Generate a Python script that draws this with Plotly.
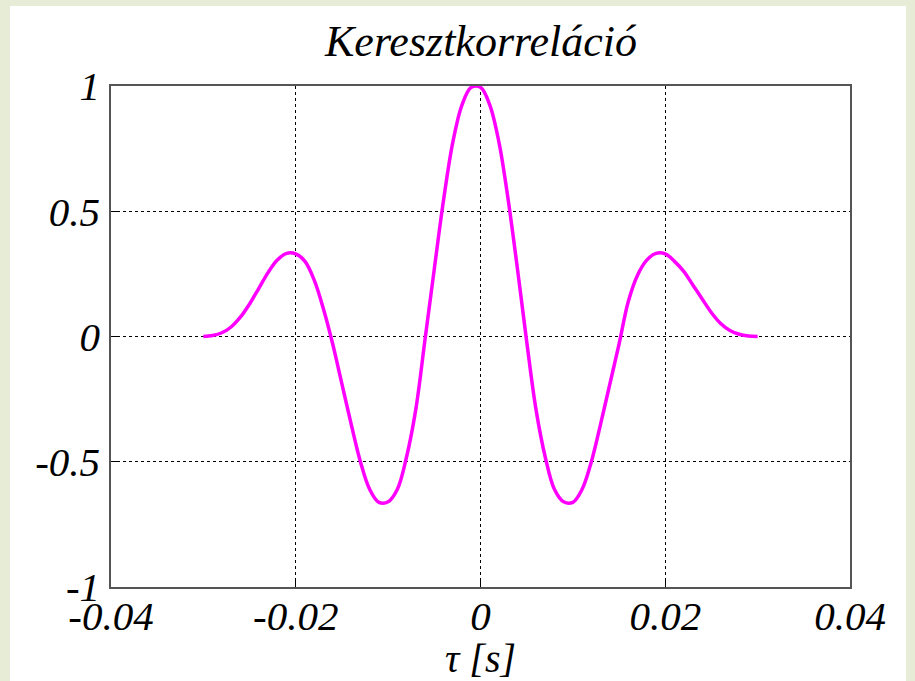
import plotly.graph_objects as go

# Data
tau = [-0.030, -0.029, -0.028, -0.027, -0.026, -0.025, -0.024, -0.023, -0.022,
       -0.021, -0.020, -0.019, -0.018, -0.017, -0.016, -0.015, -0.014, -0.013,
       -0.012, -0.011, -0.010, -0.009, -0.008, -0.007, -0.006, -0.005, -0.004,
       -0.003, -0.002, -0.001, 0.000, 0.001, 0.002, 0.003, 0.004, 0.005,
       0.006, 0.007, 0.008, 0.009, 0.010, 0.011, 0.012, 0.013, 0.014,
       0.015, 0.016, 0.017, 0.018, 0.019, 0.020, 0.021, 0.022, 0.023,
       0.024, 0.025, 0.026, 0.027, 0.028, 0.029, 0.030]
corr = [0.000, 0.004, 0.015, 0.038, 0.077, 0.130, 0.192, 0.255, 0.305,
        0.332, 0.330, 0.300, 0.225, 0.110, -0.030, -0.190, -0.350, -0.500,
        -0.610, -0.662, -0.660, -0.610, -0.480, -0.290, -0.010, 0.270, 0.545,
        0.775, 0.925, 0.995, 0.995, 0.925, 0.775, 0.545, 0.270, -0.020,
        -0.290, -0.480, -0.610, -0.660, -0.662, -0.610, -0.500, -0.350, -0.190,
        -0.030, 0.140, 0.245, 0.305, 0.332, 0.330, 0.300, 0.260, 0.205,
        0.150, 0.095, 0.052, 0.024, 0.009, 0.002, 0.000]

x_ticks = [-0.04, -0.02, 0, 0.02, 0.04]
x_tick_text = ["-0.04", "-0.02", "0", "0.02", "0.04"]
y_ticks = [-1, -0.5, 0, 0.5, 1]
y_tick_text = ["-1", "-0.5", "0", "0.5", "1"]

title_text = "Keresztkorreláció"
x_title = "τ [s]"

FONT = "Liberation Serif"

fig = go.Figure()
fig.add_trace(go.Scatter(
    x=tau, y=corr, mode="lines",
    line=dict(color="#ff00ff", width=3.5, shape="spline", smoothing=1.0),
    showlegend=False, hoverinfo="skip",
))

L, R, T, B = 111, 65, 86, 94
W, H = 915, 681
pw, ph = W - L - R, H - T - B

# white slide panel
fig.add_shape(type="rect", xref="paper", yref="paper",
              x0=(10 - L) / pw, x1=(906 - L) / pw,
              y0=(H - B - 681) / ph, y1=(H - B - 6) / ph,
              fillcolor="white", line=dict(width=0), layer="below")

fig.add_annotation(text="<i>" + title_text + "</i>", xref="paper", yref="paper",
                   x=0.5, y=(H - B - 42) / ph, xanchor="center", yanchor="middle",
                   showarrow=False, font=dict(family=FONT, size=44, color="black"))
fig.add_annotation(text="<i>" + x_title + "</i>", xref="paper", yref="paper",
                   x=0.5, y=(H - B - 658) / ph, xanchor="center", yanchor="middle",
                   showarrow=False, font=dict(family=FONT, size=40, color="black"))

axis_common = dict(
    showline=True, linecolor="#555555", linewidth=1.5, mirror=True,
    showgrid=True, gridcolor="black", gridwidth=1, griddash="dot",
    zeroline=False, ticks="inside", ticklen=6, tickcolor="black", tickwidth=1,
    tickfont=dict(family=FONT, size=41, color="black", style="italic"),
)

fig.update_xaxes(range=[-0.04, 0.04], tickmode="array", tickvals=x_ticks,
                 ticktext=x_tick_text, ticklabelstandoff=-8, **axis_common)
fig.update_yaxes(range=[-1, 1], tickmode="array", tickvals=y_ticks,
                 ticktext=y_tick_text, ticklabelstandoff=1, **axis_common)

fig.update_layout(
    width=W, height=H,
    margin=dict(l=L, r=R, t=T, b=B),
    paper_bgcolor="#e6ecd6",
    plot_bgcolor="white",
)

fig.write_html("out.html")
